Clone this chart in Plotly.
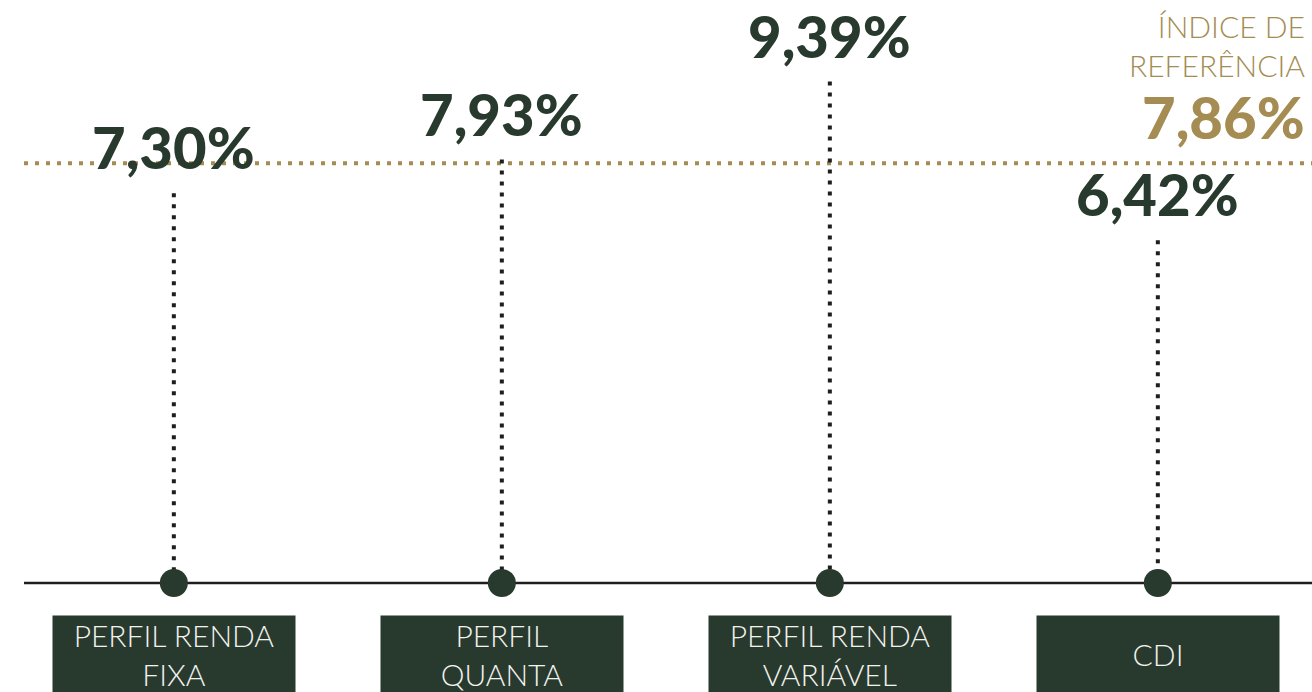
import plotly.graph_objects as go

categories = ["PERFIL RENDA<br>FIXA", "PERFIL<br>QUANTA", "PERFIL RENDA<br>VARIÁVEL", "CDI"]
values = [7.30, 7.93, 9.39, 6.42]
value_labels = ["7,30%", "7,93%", "9,39%", "6,42%"]
ref_value = 7.86
ref_label = "7,86%"
ref_title = "ÍNDICE DE<br>REFERÊNCIA"

DARK = "#28392e"
GOLD = "#a48c52"
FONT = "Lato"

fig = go.Figure()

# vertical dotted stems
for c, v in zip(categories, values):
    fig.add_trace(go.Scatter(
        x=[c, c], y=[v, 0], mode="lines",
        line=dict(color="#1e1e1e", width=4, dash="4px,7px"),
        hoverinfo="skip", showlegend=False))

# baseline circles
fig.add_trace(go.Scatter(
    x=categories, y=[0] * len(categories), mode="markers",
    marker=dict(size=28, color=DARK, line=dict(width=0)),
    hoverinfo="skip", showlegend=False))

shapes = [
    dict(type="line", xref="paper", yref="y", x0=24 / 1312, x1=1, y0=0, y1=0,
         line=dict(color="#1e1e1e", width=2.5), layer="below"),
    dict(type="line", xref="paper", yref="y", x0=24 / 1312, x1=1, y0=ref_value, y1=ref_value,
         line=dict(color=GOLD, width=4, dash="4px,7px"), layer="below"),
]

annotations = []
for c, v, t in zip(categories, values, value_labels):
    annotations.append(dict(
        x=c, y=v, xref="x", yref="y", text=t, showarrow=False,
        xanchor="center", yanchor="bottom", yshift=10,
        font=dict(family=FONT, size=58, color=DARK, weight=900)))
    annotations.append(dict(
        x=c, y=0, xref="x", yref="y", text=c, showarrow=False,
        xanchor="center", yanchor="top", yshift=-32,
        width=242, height=76, valign="middle", align="center",
        bgcolor=DARK, borderpad=0,
        font=dict(family=FONT, size=30, color="#f2f2ee", weight=300)))

annotations.append(dict(
    x=1307 / 1312, y=ref_value, xref="paper", yref="y", text=ref_label, showarrow=False,
    xanchor="right", yanchor="bottom", yshift=10,
    font=dict(family=FONT, size=58, color=GOLD, weight=900)))
annotations.append(dict(
    x=1307 / 1312, y=ref_value, xref="paper", yref="y", text=ref_title, showarrow=False,
    xanchor="right", yanchor="bottom", yshift=78, align="right",
    font=dict(family=FONT, size=30, color=GOLD, weight=300)))

fig.update_layout(
    width=1312, height=692,
    margin=dict(l=0, r=0, t=0, b=0),
    paper_bgcolor="white", plot_bgcolor="white",
    shapes=shapes, annotations=annotations,
    showlegend=False,
    xaxis=dict(type="category", range=[-0.530, 3.470], visible=False, fixedrange=True),
    yaxis=dict(range=[-2.041, 10.918], visible=False, fixedrange=True),
)

fig.write_html("out.html", config={"displayModeBar": False},
               post_script="document.body.style.margin='0px';document.body.style.overflow='hidden';")
